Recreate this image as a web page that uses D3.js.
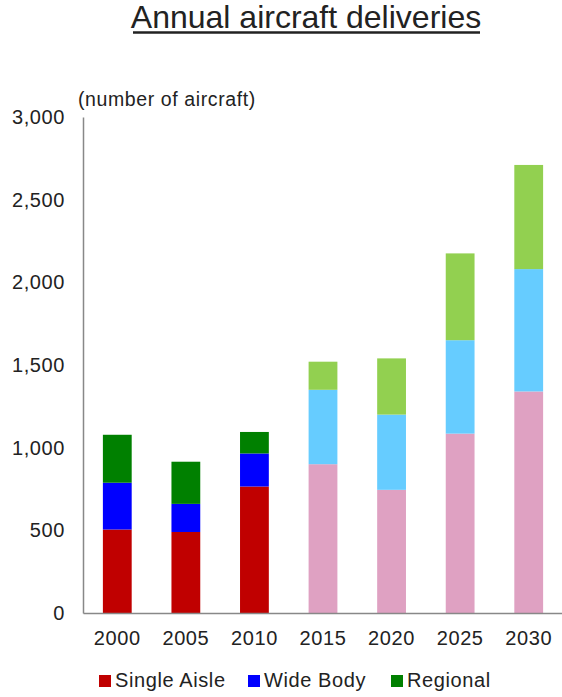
<!DOCTYPE html>
<html><head><meta charset="utf-8">
<script src="https://cdn.jsdelivr.net/npm/d3@7"></script>
<style>body{margin:0;background:#fff;} text{font-family:"Liberation Sans",Arial,sans-serif;fill:#222;}</style>
</head><body>
<svg id="c" width="562" height="697"></svg>
<script>
const years = ["2000","2005","2010","2015","2020","2025","2030"];
const singleAisle = [505, 490, 765, 900, 745, 1085, 1340];
const wideBody = [283, 170, 200, 450, 455, 565, 740];
const regional = [290, 255, 130, 170, 340, 525, 630];
const isForecast = [false, false, false, true, true, true, true];
const yTicks = [0, 500, 1000, 1500, 2000, 2500, 3000];
const seriesNames = ["Single Aisle", "Wide Body", "Regional"];
const histColors = ["#C00000", "#0000FF", "#008000"];
const foreColors = ["#DFA1C2", "#66CCFF", "#92D050"];

const svg = d3.select("#c");
const x = d3.scaleBand().domain(years).range([83, 563]).paddingInner(0.58).paddingOuter(0.29);
const y = d3.scaleLinear().domain([0, 3000]).range([613, 117]);

// title
svg.append("text").attr("x", 306).attr("y", 28).attr("text-anchor", "middle")
  .style("font-size", "32px").text("Annual aircraft deliveries");
svg.append("line").attr("x1", 133).attr("x2", 480).attr("y1", 32.5).attr("y2", 32.5)
  .attr("stroke", "#222").attr("stroke-width", 2.5);

const data = years.map((yr, i) => ({year: yr, "Single Aisle": singleAisle[i], "Wide Body": wideBody[i], "Regional": regional[i], fc: isForecast[i]}));
const stack = d3.stack().keys(seriesNames)(data);
stack.forEach((layer, li) => {
  svg.append("g").selectAll("rect").data(layer).join("rect")
    .attr("x", d => x(d.data.year))
    .attr("width", x.bandwidth())
    .attr("y", d => y(d[1]))
    .attr("height", d => y(d[0]) - y(d[1]))
    .attr("fill", d => d.data.fc ? foreColors[li] : histColors[li]);
});

// axes
const yAxis = d3.axisLeft(y).tickValues(yTicks).tickSize(0).tickPadding(18).tickFormat(d3.format(","));
const gy = svg.append("g").attr("transform", "translate(83,0)").call(yAxis);
gy.select(".domain").attr("stroke", "#888").attr("stroke-width", 1.5);
gy.selectAll("text").style("font-size", "20px").style("letter-spacing", "0.6px").attr("fill", "#222");

const xAxis = d3.axisBottom(x).tickSize(0).tickPadding(18);
const gx = svg.append("g").attr("transform", "translate(0,613)").call(xAxis);
gx.select(".domain").attr("stroke", "#888").attr("stroke-width", 1.5);
gx.selectAll("text").style("font-size", "20px").style("letter-spacing", "0.6px").attr("fill", "#222");

svg.append("text").attr("x", 78).attr("y", 106).style("font-size", "19.5px").style("letter-spacing", "0.6px").text("(number of aircraft)");

// legend
const legX = [115, 264, 407];
seriesNames.forEach((n, i) => {
  const g = svg.append("g").attr("transform", `translate(${legX[i]},0)`);
  g.append("rect").attr("x", -16).attr("y", 675).attr("width", 12).attr("height", 12).attr("fill", histColors[i]);
  g.append("text").attr("x", 0).attr("y", 687).style("font-size", "20px").style("letter-spacing", "0.6px").text(n);
});
</script>
</body></html>
